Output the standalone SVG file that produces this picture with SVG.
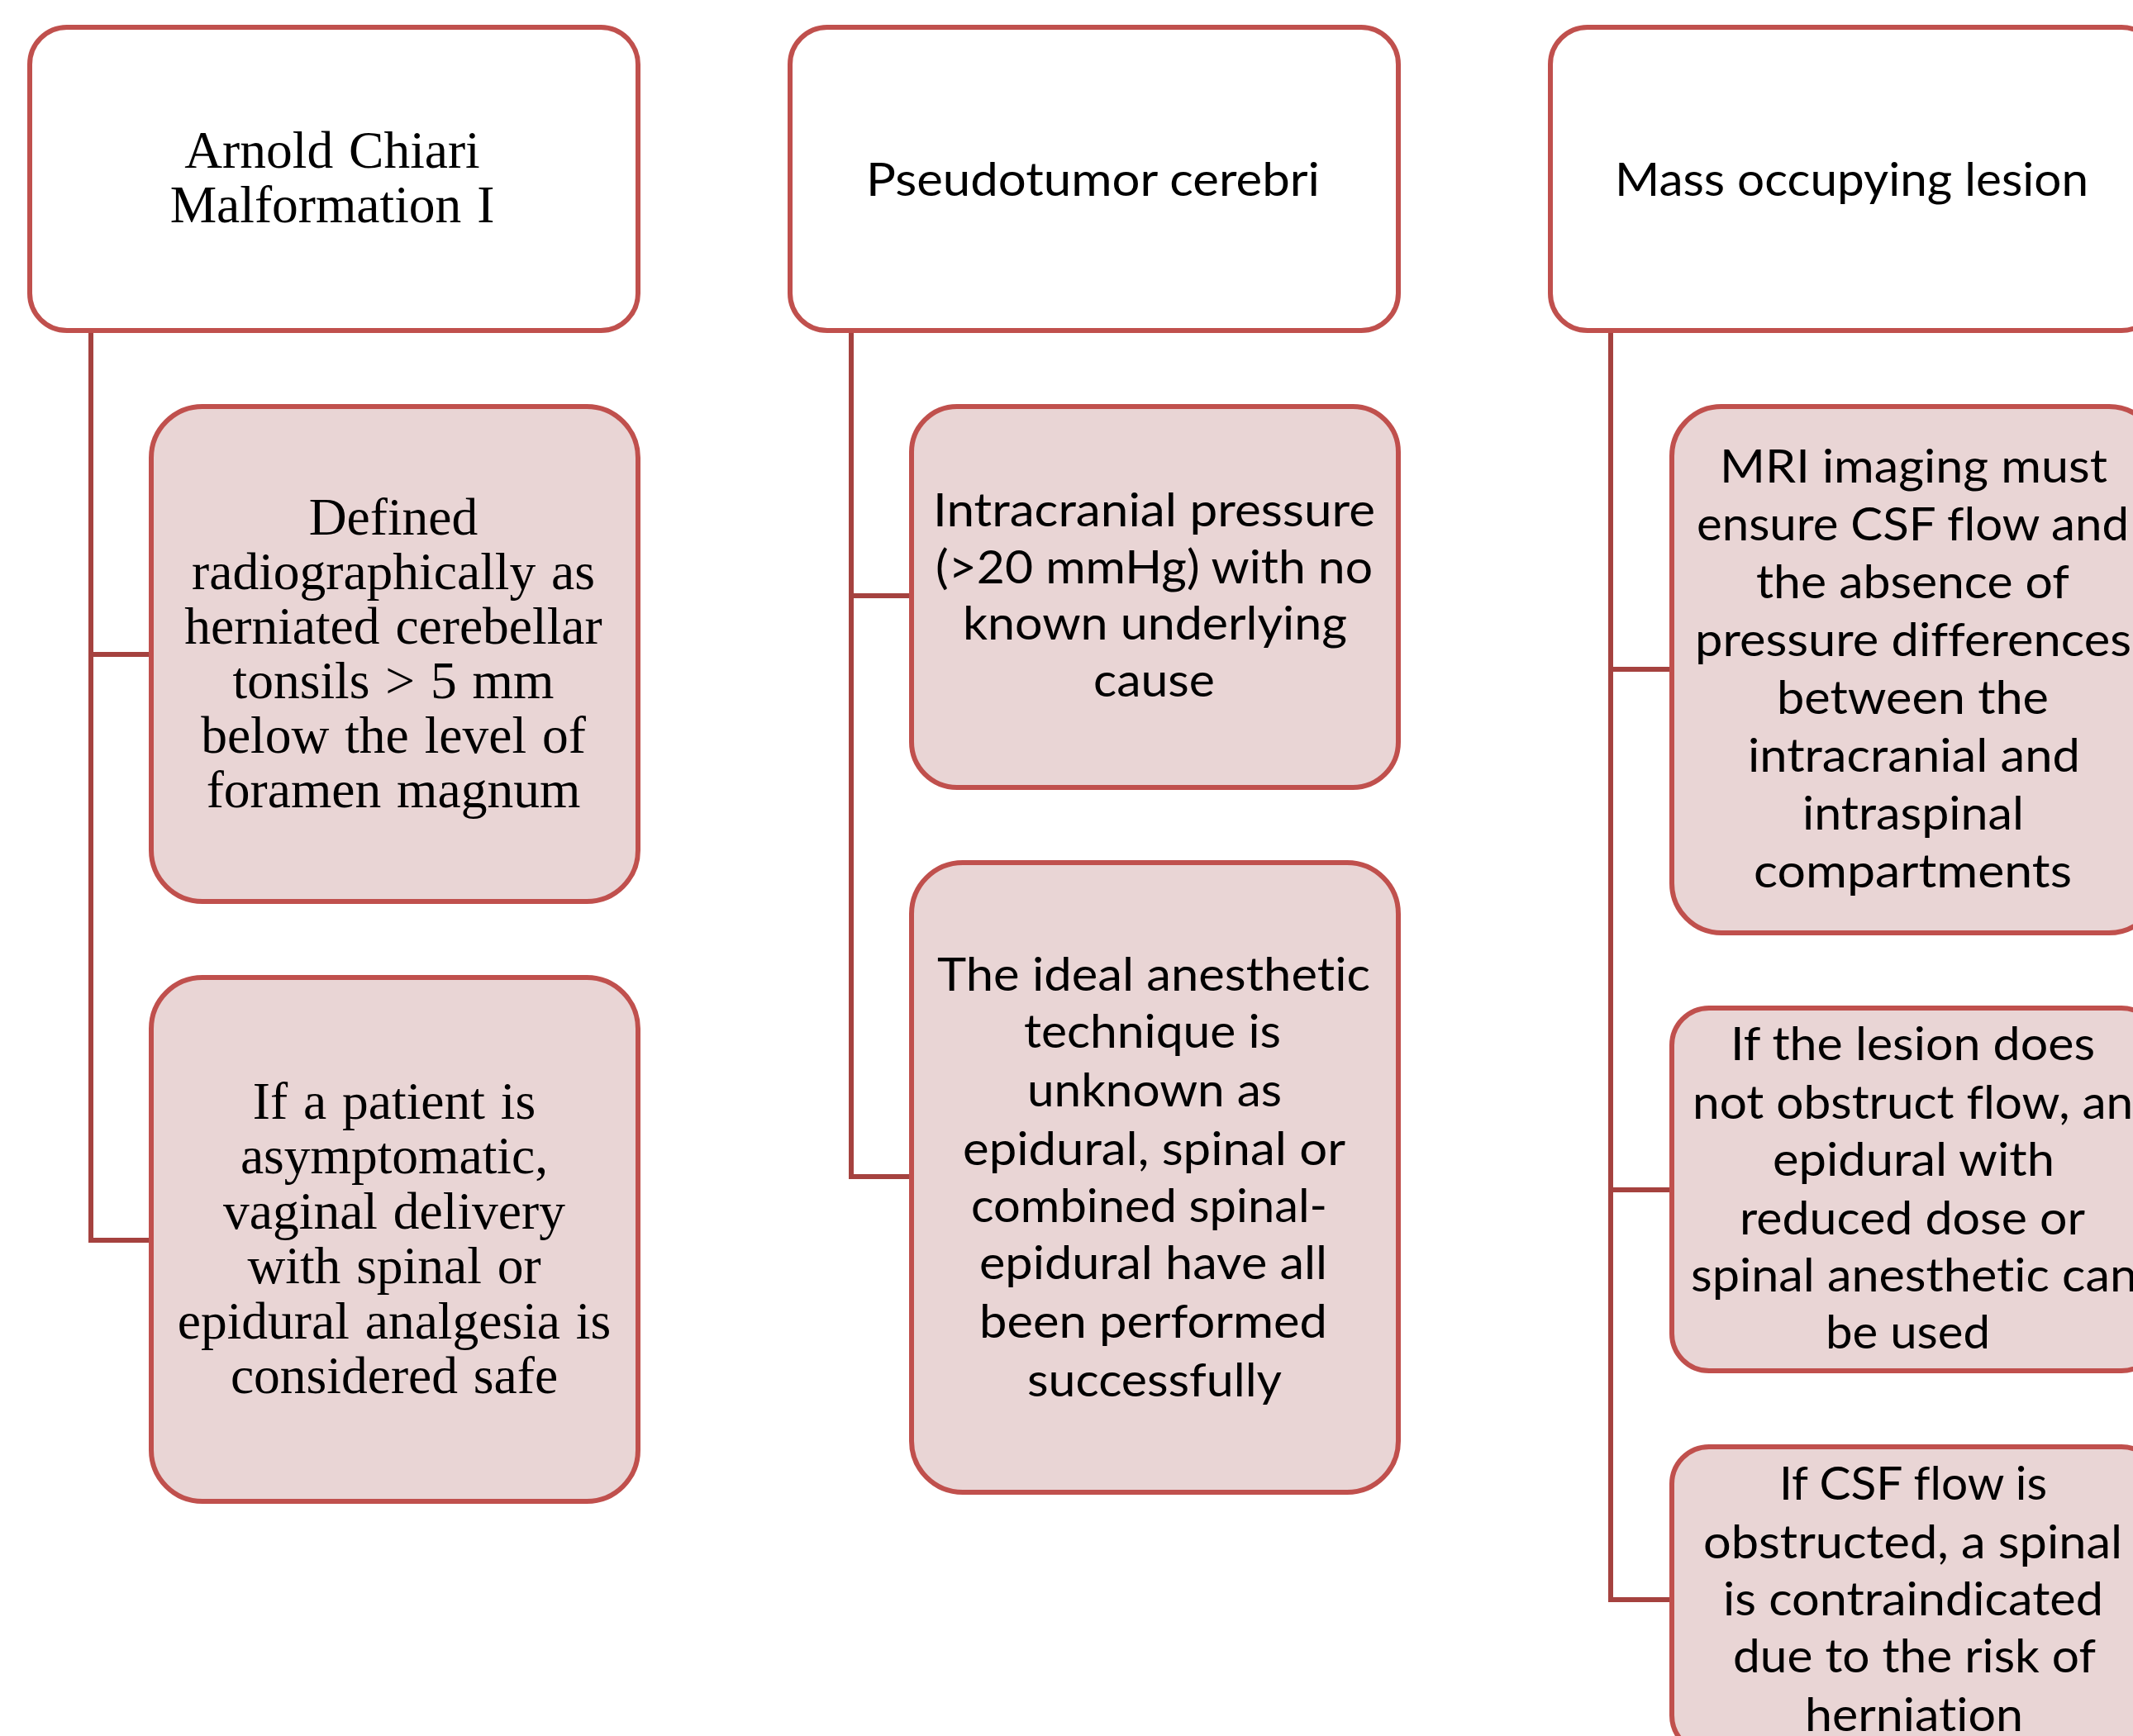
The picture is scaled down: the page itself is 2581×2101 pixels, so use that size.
<svg xmlns="http://www.w3.org/2000/svg" width="2581" height="2101" viewBox="0 0 2581 2101">
<style>
.hdr{fill:#FFFFFF;stroke:#C0504D;stroke-width:6}
.sub{fill:#E9D5D5;stroke:#C0504D;stroke-width:6}
.con{fill:none;stroke:#A5423F;stroke-width:6}
.tr{font-family:"Liberation Serif","Times New Roman",serif;font-size:63.5px;fill:#000;text-anchor:middle;word-spacing:3px}
.sn{font-family:Lato,"Open Sans","Liberation Sans",sans-serif;font-size:57px;fill:#000;font-variant-ligatures:none}
</style>
<rect width="2581" height="2101" fill="#FFFFFF"/>
<g id="connectors">
<path class="con" d="M110 400 V1501 H183 M110 792 H183"/>
<path class="con" d="M1030 400 V1424 H1103 M1030 721 H1103"/>
<path class="con" d="M1949 400 V1936 H2023 M1949 810 H2023 M1949 1440 H2023"/>
</g>
<g id="n-chiari">
<rect class="hdr" x="36" y="33" width="736" height="367" rx="45"/>
<text class="tr"><tspan x="402" y="203">Arnold Chiari</tspan><tspan x="402" y="269">Malformation I</tspan></text>
</g>
<g id="n-chiari-1">
<rect class="sub" x="183" y="492" width="589" height="599" rx="62"/>
<text class="tr"><tspan x="476" y="647">Defined</tspan><tspan x="476" y="713">radiographically as</tspan><tspan x="476" y="779">herniated cerebellar</tspan><tspan x="476" y="845">tonsils &gt; 5 mm</tspan><tspan x="476" y="911">below the level of</tspan><tspan x="476" y="977">foramen  magnum</tspan></text>
</g>
<g id="n-chiari-2">
<rect class="sub" x="183" y="1183" width="589" height="634" rx="62"/>
<text class="tr"><tspan x="477" y="1354">If a patient is</tspan><tspan x="477" y="1420">asymptomatic,</tspan><tspan x="477" y="1487">vaginal delivery</tspan><tspan x="477" y="1553">with spinal or</tspan><tspan x="477" y="1620">epidural analgesia is</tspan><tspan x="477" y="1686">considered safe</tspan></text>
</g>
<g id="n-pseudo">
<rect class="hdr" x="956" y="33" width="736" height="367" rx="45"/>
<text class="sn" x="1048" y="237" textLength="549" lengthAdjust="spacingAndGlyphs">Pseudotumor cerebri</text>
</g>
<g id="n-pseudo-1">
<rect class="sub" x="1103" y="492" width="589" height="461" rx="55"/>
<text class="sn" x="1129" y="637" textLength="535" lengthAdjust="spacingAndGlyphs">Intracranial pressure</text>
<text class="sn" x="1132" y="706" textLength="529" lengthAdjust="spacingAndGlyphs">(&gt;20 mmHg) with no</text>
<text class="sn" x="1165" y="774" textLength="465" lengthAdjust="spacingAndGlyphs">known underlying</text>
<text class="sn" x="1323" y="843" textLength="147" lengthAdjust="spacingAndGlyphs">cause</text>
</g>
<g id="n-pseudo-2">
<rect class="sub" x="1103" y="1044" width="589" height="762" rx="62"/>
<text class="sn" x="1134" y="1199" textLength="524" lengthAdjust="spacingAndGlyphs">The ideal anesthetic</text>
<text class="sn" x="1239" y="1268" textLength="311" lengthAdjust="spacingAndGlyphs">technique is</text>
<text class="sn" x="1243" y="1339" textLength="308" lengthAdjust="spacingAndGlyphs">unknown as</text>
<text class="sn" x="1165" y="1410" textLength="463" lengthAdjust="spacingAndGlyphs">epidural, spinal or</text>
<text class="sn" x="1175" y="1479" textLength="431" lengthAdjust="spacingAndGlyphs">combined spinal-</text>
<text class="sn" x="1185" y="1548" textLength="421" lengthAdjust="spacingAndGlyphs">epidural have all</text>
<text class="sn" x="1185" y="1619" textLength="421" lengthAdjust="spacingAndGlyphs">been performed</text>
<text class="sn" x="1243" y="1690" textLength="308" lengthAdjust="spacingAndGlyphs">successfully</text>
</g>
<g id="n-mass">
<rect class="hdr" x="1876" y="33" width="736" height="367" rx="45"/>
<text class="sn" x="1954" y="237" textLength="573" lengthAdjust="spacingAndGlyphs">Mass occupying lesion</text>
</g>
<g id="n-mass-1">
<rect class="sub" x="2023" y="492" width="589" height="637" rx="60"/>
<text class="sn" x="2081" y="584" textLength="469" lengthAdjust="spacingAndGlyphs">MRI imaging must</text>
<text class="sn" x="2053" y="654" textLength="523" lengthAdjust="spacingAndGlyphs">ensure CSF flow and</text>
<text class="sn" x="2125" y="724" textLength="379" lengthAdjust="spacingAndGlyphs">the absence of</text>
<text class="sn" x="2051" y="794" textLength="528" lengthAdjust="spacingAndGlyphs">pressure differences</text>
<text class="sn" x="2150" y="864" textLength="329" lengthAdjust="spacingAndGlyphs">between the</text>
<text class="sn" x="2115" y="934" textLength="402" lengthAdjust="spacingAndGlyphs">intracranial and</text>
<text class="sn" x="2181" y="1004" textLength="268" lengthAdjust="spacingAndGlyphs">intraspinal</text>
<text class="sn" x="2122" y="1074" textLength="385" lengthAdjust="spacingAndGlyphs">compartments</text>
</g>
<g id="n-mass-2">
<rect class="sub" x="2023" y="1220" width="589" height="439" rx="45"/>
<text class="sn" x="2094" y="1283" textLength="441" lengthAdjust="spacingAndGlyphs">If the lesion does</text>
<text class="sn" x="2048" y="1354" textLength="566" lengthAdjust="spacingAndGlyphs">not obstruct flow, and</text>
<text class="sn" x="2145" y="1423" textLength="341" lengthAdjust="spacingAndGlyphs">epidural with</text>
<text class="sn" x="2105" y="1494" textLength="418" lengthAdjust="spacingAndGlyphs">reduced dose or</text>
<text class="sn" x="2046" y="1563" textLength="540" lengthAdjust="spacingAndGlyphs">spinal anesthetic can</text>
<text class="sn" x="2209" y="1632" textLength="199" lengthAdjust="spacingAndGlyphs">be used</text>
</g>
<g id="n-mass-3">
<rect class="sub" x="2023" y="1751" width="589" height="370" rx="45"/>
<text class="sn" x="2153" y="1815" textLength="324" lengthAdjust="spacingAndGlyphs">If CSF flow is</text>
<text class="sn" x="2061" y="1886" textLength="507" lengthAdjust="spacingAndGlyphs">obstructed, a spinal</text>
<text class="sn" x="2085" y="1955" textLength="460" lengthAdjust="spacingAndGlyphs">is contraindicated</text>
<text class="sn" x="2097" y="2024" textLength="439" lengthAdjust="spacingAndGlyphs">due to the risk of</text>
<text class="sn" x="2184" y="2095" textLength="264" lengthAdjust="spacingAndGlyphs">herniation</text>
</g>
</svg>
